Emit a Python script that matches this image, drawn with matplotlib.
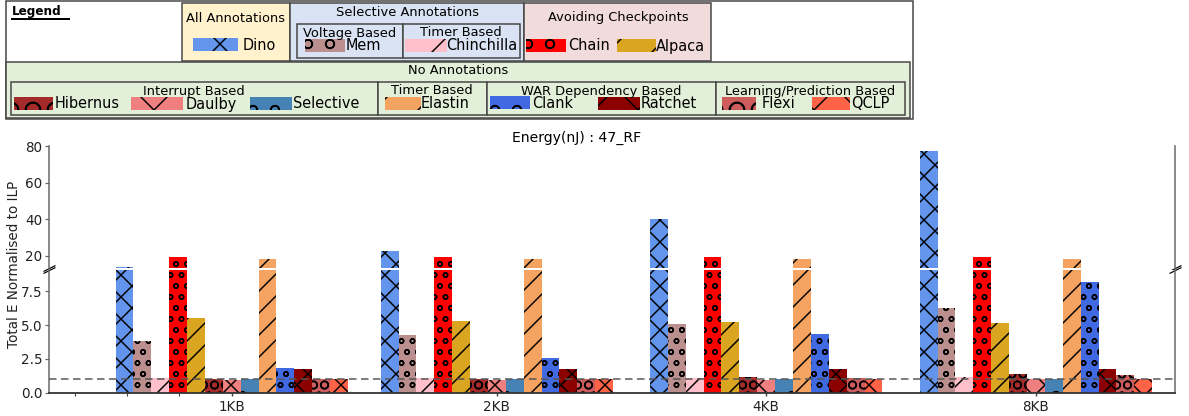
import numpy as np
import matplotlib.pyplot as plt
from matplotlib.patches import Rectangle

W, H, DPI = 1189, 416, 132
plt.rcParams['hatch.linewidth'] = 0.8
plt.rcParams['font.family'] = 'DejaVu Sans'

sizes = ['1KB', '2KB', '4KB', '8KB']
schemes = ['Dino', 'Mem', 'Chinchilla', 'Chain', 'Alpaca', 'Hibernus', 'Daulby',
           'Selective', 'Elastin', 'Clank', 'Ratchet', 'Flexi', 'QCLP']
colors = ['cornflowerblue', 'rosybrown', 'pink', 'red', 'goldenrod', 'brown',
          'lightcoral', 'steelblue', 'sandybrown', 'royalblue', 'darkred',
          'indianred', 'tomato']
# bars are hatched twice as dense as the legend swatches
hatches = ['xx', 'oo', '//', 'oo', '//', 'OO', 'xx', 'o', '//', 'oo', 'xx', 'OO', 'xx']
leg_hatches = ['x', 'o', '/', 'o', '/', 'O', 'x', 'o', '/', 'o', 'x', 'O', 'x']

dino = [13.8, 22.6, 40.0, 77.1]
mem = [3.8, 4.24, 5.05, 6.23]
chinchilla = [1.06, 1.1, 1.1, 1.15]
chain = [19.3, 19.3, 19.3, 19.3]
alpaca = [5.49, 5.27, 5.2, 5.13]
hibernus = [1.0, 1.0, 1.15, 1.38]
daulby = [0.95, 0.95, 0.97, 1.0]
selective = [1.0, 1.0, 1.0, 1.0]
elastin = [18.2, 18.2, 18.2, 18.2]
clank = [1.82, 2.55, 4.32, 8.2]
ratchet = [1.74, 1.74, 1.74, 1.74]
flexi = [1.0, 1.02, 1.1, 1.3]
qclp = [1.0, 1.0, 1.0, 1.0]
series = [dino, mem, chinchilla, chain, alpaca, hibernus, daulby,
          selective, elastin, clank, ratchet, flexi, qclp]

# layout
centers = np.array([3.03, 8.16, 13.37, 18.59])
width = 0.346
px = lambda v: v * 72 / DPI   # pixel size -> points

fig = plt.figure(figsize=(W / DPI, H / DPI), dpi=DPI)
left, right = 49.3, 1175
ax_top = fig.add_axes([left / W, 1 - 268 / H, (right - left) / W, (268 - 146) / H])
ax_bot = fig.add_axes([left / W, 1 - 392.7 / H, (right - left) / W, (392.7 - 269.5) / H])

for ax in (ax_top, ax_bot):
    for i, vals in enumerate(series):
        ax.bar(centers + (i - 6) * width, vals, width, color=colors[i],
               hatch=hatches[i], edgecolor='black', linewidth=0)
    ax.set_xlim(-0.5, 21.28)
    ax.spines['top'].set_visible(False)
    for s in ('left', 'right'):
        ax.spines[s].set_color('#666666')
        ax.spines[s].set_linewidth(px(1.5))
    ax.tick_params(axis='y', length=px(4), pad=px(3), labelsize=px(13.5),
                   colors='#666666', labelcolor='#222222', width=px(1.2))

ax_top.set_ylim(13.3, 80)
ax_top.set_yticks([20, 40, 60, 80])
ax_top.spines['bottom'].set_visible(False)
ax_top.set_xticks([])

ax_bot.set_ylim(0, 9.1)
ax_bot.set_yticks([0, 2.5, 5.0, 7.5])
ax_bot.spines['bottom'].set_color('#333333')
ax_bot.spines['bottom'].set_linewidth(px(1.8))
ax_bot.set_xticks(centers, sizes)
ax_bot.set_xticks([0, 1, 2], minor=True)
ax_bot.tick_params(axis='x', which='both', length=px(3), pad=px(4),
                   labelsize=px(13.5), colors='#444444', labelcolor='#222222')
ax_bot.axhline(1, color='#555555', ls=(0, (5, 3)), lw=px(1.5), zorder=3)

# break marks
mk = dict(marker=[(-1, -0.5), (1, 0.5)], markersize=px(12), linestyle='none',
          color='k', mec='k', mew=px(1.2), clip_on=False)
ax_top.plot([0, 1], [0, 0], transform=ax_top.transAxes, **mk)
ax_bot.plot([0, 1], [1, 1], transform=ax_bot.transAxes, **mk)

fig.text(576.5 / W, 1 - 138 / H, 'Energy(nJ) : 47_RF', ha='center', va='center',
         fontsize=px(14))
fig.text(14 / W, 1 - 264 / H, 'Total E Normalised to ILP', rotation=90,
         ha='center', va='center', fontsize=px(13.5), color='#222222')

# legend panel drawn in pixel coordinates
lg = fig.add_axes([0, 0, 1, 1], zorder=-1)
lg.set_xlim(0, W)
lg.set_ylim(H, 0)
lg.axis('off')

def box(x0, y0, x1, y1, fc):
    lg.add_patch(Rectangle((x0, y0), x1 - x0, y1 - y0, facecolor=fc,
                           edgecolor='#444444', linewidth=px(1.5)))

box(6, 1, 913, 119, 'white')
box(182, 3, 290, 61, '#fff2cc')
box(290, 3, 524, 61, '#dae3f3')
box(297, 24, 403, 58, '#dae3f3')
box(403, 24, 520, 58, '#dae3f3')
box(524, 3, 711, 61, '#f2dcdb')
box(6, 62, 910, 118, '#e2f0d9')
for x0, x1 in [(11, 378), (378, 487), (487, 716), (716, 905)]:
    box(x0, 82, x1, 115, '#e2f0d9')

lg.text(12, 11, 'Legend', fontweight='bold', fontsize=px(12), va='center', ha='left')
lg.plot([12, 69], [18.5, 18.5], color='black', lw=px(2))

titles = [('All Annotations', 236, 18), ('Selective Annotations', 407, 13),
          ('Voltage Based', 350, 33), ('Timer Based', 461, 33),
          ('Avoiding Checkpoints', 618, 18), ('No Annotations', 458, 71),
          ('Interrupt Based', 194, 91), ('Timer Based', 432, 91),
          ('WAR Dependency Based', 601, 91), ('Learning/Prediction Based', 810, 91)]
for t, x, y in titles:
    lg.text(x, y, t, ha='center', va='center', fontsize=px(13))

# handle x0, x1, y-center, label x
slots = {'Dino': (193, 238, 44, 243), 'Mem': (305, 345, 45, 346),
         'Chinchilla': (405, 447, 45, 446), 'Chain': (526, 566, 45, 568),
         'Alpaca': (617, 656, 45, 656), 'Hibernus': (14, 53, 103, 55),
         'Daulby': (131, 183, 103, 186), 'Selective': (250, 292, 103, 293),
         'Elastin': (385, 421, 103, 421), 'Clank': (490, 530, 102, 532),
         'Ratchet': (598, 640, 103, 641), 'Flexi': (722, 756, 103, 762),
         'QCLP': (812, 850, 103, 851)}
for i, name in enumerate(schemes):
    x0, x1, yc, xl = slots[name]
    lg.add_patch(Rectangle((x0, yc - 6.5), x1 - x0, 13, facecolor=colors[i],
                           hatch=leg_hatches[i], edgecolor='black', linewidth=0))
    lg.text(xl, yc + 1, name, ha='left', va='center', fontsize=px(14.5))

fig.savefig('out.png', dpi=DPI)
